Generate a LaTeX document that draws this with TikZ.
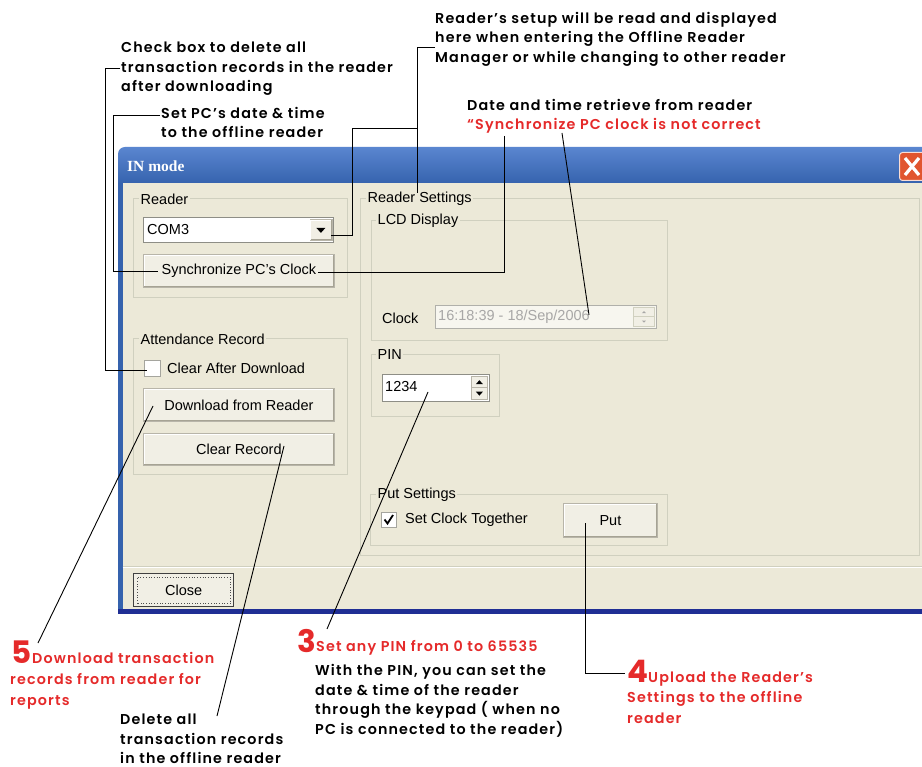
\documentclass[tikz,border=0pt]{standalone}
\usepackage{fontspec}
\setmainfont{Liberation Sans}
\newfontfamily\annot{Poppins}[UprightFont={Poppins SemiBold},BoldFont={Poppins Bold},LetterSpace=8]
\newfontfamily\annotnum{Poppins}[UprightFont={Poppins Bold}]
\newfontfamily\wtitle{Liberation Serif}
\usetikzlibrary{calc}
\definecolor{winbg}{HTML}{ECE9D8}
\definecolor{grpline}{HTML}{D0D0BF}
\definecolor{annred}{HTML}{E52A2A}
\definecolor{tbtop}{HTML}{5A86D0}
\definecolor{tbbot}{HTML}{3562AD}
\definecolor{navy}{HTML}{1F2E94}
\definecolor{btnface}{HTML}{F1EFE5}
\definecolor{btnshade}{HTML}{A6A394}
\definecolor{fldedge}{HTML}{8E8E86}
\definecolor{disgrey}{HTML}{A8A7A6}
\definecolor{xred}{HTML}{E1552F}
\begin{document}
\begin{tikzpicture}[x=1pt,y=-1pt,
  ui/.style={font=\fontsize{14.5}{16}\selectfont, inner sep=0pt, text=black},
  grp/.style={draw=grpline, line width=1.2pt, inner sep=0pt, anchor=north west},
  glabel/.style={ui, fill=winbg, inner xsep=1.5pt, inner ysep=0pt, anchor=west},
  btn/.style={ui, fill=btnface, draw=btnshade!80, line width=0.8pt, anchor=north west},
  field/.style={fill=white, draw=fldedge, line width=0.9pt, inner sep=0pt, anchor=north west},
  chk/.style={fill=white, draw=fldedge!80, line width=0.9pt, inner sep=0pt, anchor=north west},
  note/.style={font=\annot\fontsize{14.3}{19.5}\selectfont, align=left, inner sep=0pt, anchor=north west},
  rednote/.style={note, text=annred},
  bignum/.style={font=\annotnum\fontsize{31}{31}\selectfont, text=annred, inner sep=0pt, anchor=base west},
  leader/.style={draw=black, line width=0.9pt},
]
\useasboundingbox (0,0) rectangle (922,767);
\clip (0,0) rectangle (922,767);
\fill[white] (0,0) rectangle (922,767);

% ---------- window ----------
\shade[top color=tbtop, bottom color=tbbot] (118,184) [rounded corners=7pt]-- (118,147) -- (935,147) [sharp corners]-- (935,184) -- cycle;
\fill[winbg] (118,183) rectangle (935,614);
\fill[tbbot] (118,183) rectangle (122.5,612);
\fill[navy] (118,609) rectangle (935,614);
\draw[grpline, line width=1pt] (122.5,566) -- (935,566);
\draw[white, line width=1pt] (122.5,567.5) -- (935,567.5);
\node[font=\wtitle\bfseries\fontsize{15.5}{16}\selectfont, text=white, anchor=west, inner sep=0pt] (title) at (127,166) {IN mode};
\node[fill=xred, draw=white!80!xred, line width=1pt, rounded corners=3pt, minimum width=26pt, minimum height=28pt, inner sep=0pt, anchor=north west] (xbtn) at (899,152) {};
\draw[white, line width=3.2pt] ([shift={(6,6)}]xbtn.north west) -- ([shift={(20,-6)}]xbtn.south west);
\draw[white, line width=3.2pt] ([shift={(6,-6)}]xbtn.south west) -- ([shift={(20,6)}]xbtn.north west);

% ---------- group boxes ----------
\node[grp, minimum width=214pt, minimum height=99pt] (grdr) at (133,198) {};
\node[glabel] (grdrl) at (139,199) {Reader};
\node[grp, minimum width=214pt, minimum height=136pt] (gatt) at (133,338) {};
\node[glabel] (gattl) at (139,339) {Attendance Record};
\node[grp, minimum width=559pt, minimum height=357pt] (gset) at (360,198) {};
\node[glabel] (gsetl) at (366,199) {Reader Settings};
\node[grp, minimum width=296pt, minimum height=120pt] (glcd) at (371,220) {};
\node[glabel] (glcdl) at (376,221) {LCD Display};
\node[grp, minimum width=128pt, minimum height=62pt] (gpin) at (371,354) {};
\node[glabel] (gpinl) at (376,355) {PIN};
\node[grp, minimum width=297pt, minimum height=51pt] (gput) at (370,494) {};
\node[glabel] (gputl) at (376,495) {Put Settings};

% ---------- Reader group ----------
\node[field, minimum width=190pt, minimum height=25pt] (combo) at (143,217) {};
\node[ui, anchor=west] (comtxt) at (147,229.5) {COM3};
\node[btn, minimum width=22pt, minimum height=21pt] (cbtn) at (309.5,219) {};
\fill (cbtn.center) ++(-4.5,-2) -- ++(9,0) -- ++(-4.5,5) -- cycle;
\node[btn, minimum width=191pt, minimum height=33pt] (sync) at (143,254) {Synchronize PC{\char"0027}s Clock};

% ---------- Attendance group ----------
\node[chk, minimum width=16pt, minimum height=16pt] (chk1) at (144,360) {};
\node[ui, anchor=west] (chk1t) at (167,368) {Clear After Download};
\node[btn, minimum width=191pt, minimum height=33pt] (dl) at (143,388) {Download from Reader};
\node[btn, minimum width=191pt, minimum height=32pt] (clr) at (143,433) {Clear Record};

% ---------- LCD group ----------
\node[ui, anchor=west] (clkl) at (382,318) {Clock};
\node[field, fill=white!60!winbg, draw=fldedge!70, minimum width=221pt, minimum height=23pt] (clk) at (435,305) {};
\node[ui, text=disgrey, anchor=west] (clkt) at (438,316.5) {16:18:39 - 18/Sep/2006};
\node[btn, draw=grpline, minimum width=21pt, minimum height=9.5pt] (spu1) at (633,307) {};
\node[btn, draw=grpline, minimum width=21pt, minimum height=9.5pt] (spd1) at (633,316.5) {};
\fill[disgrey] (spu1.center) ++(-2,1) -- ++(4,0) -- ++(-2,-2) -- cycle;
\fill[disgrey] (spd1.center) ++(-2,-1) -- ++(4,0) -- ++(-2,2) -- cycle;

% ---------- PIN group ----------
\node[field, minimum width=107pt, minimum height=27pt] (pinf) at (382,374) {};
\node[ui, anchor=west] (pint) at (385,387) {1234};
\node[btn, minimum width=16pt, minimum height=11.5pt] (spu2) at (471,376) {};
\node[btn, minimum width=16pt, minimum height=11.5pt] (spd2) at (471,387.5) {};
\fill (spu2.center) ++(-3.5,2) -- ++(7,0) -- ++(-3.5,-4) -- cycle;
\fill (spd2.center) ++(-3.5,-2) -- ++(7,0) -- ++(-3.5,4) -- cycle;

% ---------- Put settings ----------
\node[chk, minimum width=15pt, minimum height=15pt] (chk2) at (381,512) {};
\draw[line width=1.8pt] (384.5,519.5) -- (387.5,523.5) -- (393,515);
\node[ui, anchor=west] (chk2t) at (405,519.5) {Set Clock Together};
\node[btn, minimum width=94pt, minimum height=34pt] (put) at (563,503) {Put};

% ---------- Close ----------
\node[ui, fill=btnface, draw=black!75, line width=1.3pt, minimum width=100pt, minimum height=33pt, anchor=north west] (close) at (133,573) {Close};
\draw[black!70, dotted, line width=0.7pt] ([shift={(4,-4)}]close.south west) rectangle ([shift={(-4,4)}]close.north east);

\foreach \b in {sync,dl,clr,put,cbtn}{
  \draw[white, line width=1.2pt] ([shift={(1.2,-1.2)}]\b.south west) -- ([shift={(1.2,1.2)}]\b.north west) -- ([shift={(-1.2,1.2)}]\b.north east);
  \draw[btnshade, line width=1.2pt] ([shift={(1.2,-1.2)}]\b.south west) -- ([shift={(-1.2,-1.2)}]\b.south east) -- ([shift={(-1.2,1.2)}]\b.north east);
}

% ---------- annotations ----------
\node[note] (n1) at (121,42) {Check box to delete all\\transaction records in the reader\\after downloading};
\node[note] (n2) at (161,107) {Set PC’s date \& time\\to the offline reader};
\node[note] (n3) at (435,12) {Reader’s setup will be read and displayed\\here when entering the Offline Reader\\Manager or while changing to other reader};
\node[note, font=\annot\fontsize{14.3}{19}\selectfont] (n4) at (467,99.5) {Date and time retrieve from reader\\\textcolor{annred}{“Synchronize PC clock is not correct}};
\node[bignum] (d5) at (11,663) {5};
\node[rednote, font=\annot\fontsize{14.3}{21}\selectfont] (n5) at (10,652) {\hspace*{22pt}Download transaction\\records from reader for\\reports};
\node[note] (n6) at (120,714) {Delete all\\transaction records\\in the offline reader};
\node[bignum] (d3) at (297,652) {3};
\node[rednote] (n7r) at (316,640.5) {Set any PIN from 0 to 65535};
\node[note] (n7) at (315,664.5) {With the PIN, you can set the\\date \& time of the reader\\through the keypad ( when no\\PC is connected to the reader)};
\node[bignum] (d4) at (627,682) {4};
\node[rednote, font=\annot\fontsize{14.3}{20.5}\selectfont] (n8) at (627,671.5) {\hspace*{21pt}Upload the Reader’s\\Settings to the offline\\reader};

% ---------- leaders ----------
\coordinate (l1s) at (120,68);
\coordinate (l1e) at (147,370);
\draw[leader] (l1s) -- ++(-15,0) |- (l1e);
\coordinate (l2s) at (160,115);
\coordinate (l2e) at (158,271);
\draw[leader] (l2s) -- ++(-47,0) |- (l2e);
\coordinate (l3s) at (435,47);
\coordinate (l3e) at (417,193);
\coordinate (l3b) at (417,128);
\coordinate (l3k) at (352,128);
\coordinate (l3f) at (331,235);
\draw[leader] (l3s) -| (l3e);
\draw[leader] (l3b) -- (l3k) |- (l3f);
\coordinate (l4s) at (504,136);
\coordinate (l4e) at (318,272);
\draw[leader] (l4s) |- (l4e);
\coordinate (l4bs) at (562,133);
\coordinate (l4be) at (589,315);
\draw[leader] (l4bs) -- (l4be);
\coordinate (l5s) at (38,643);
\coordinate (l5e) at (153,406);
\draw[leader] (l5s) -- (l5e);
\coordinate (l6s) at (217,716);
\coordinate (l6e) at (284,446);
\draw[leader] (l6s) -- (l6e);
\coordinate (l7s) at (327,629);
\coordinate (l7e) at (428,392);
\draw[leader] (l7s) -- (l7e);
\coordinate (l8s) at (585,523);
\coordinate (l8e) at (625,673);
\draw[leader] (l8s) |- (l8e);
\end{tikzpicture}
\end{document}
